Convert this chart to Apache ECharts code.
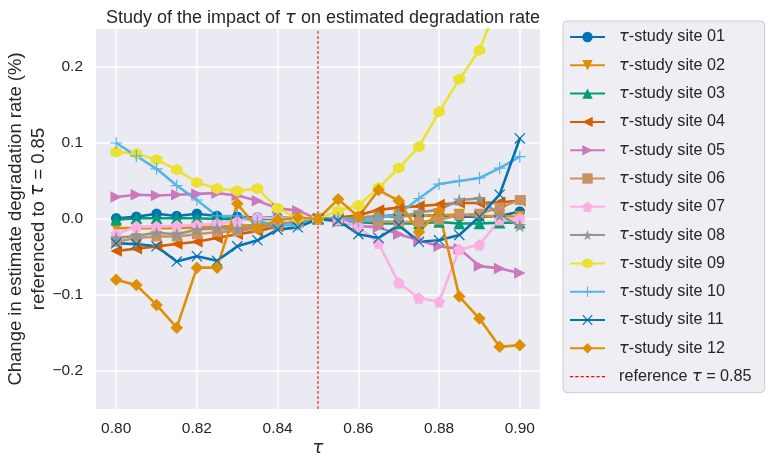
<!DOCTYPE html>
<html>
<head>
<meta charset="utf-8">
<script src="https://cdn.jsdelivr.net/npm/echarts@6/dist/echarts.min.js"></script>
<style>
html,body{margin:0;padding:0;background:#fff;}
#chart{width:772px;height:466px;}
</style>
</head>
<body>
<div id="chart"></div>
<script>
// ---- data ----
const TAU = [0.800,0.805,0.810,0.815,0.820,0.825,0.830,0.835,0.840,0.845,0.850,0.855,0.860,0.865,0.870,0.875,0.880,0.885,0.890,0.895,0.900];
const X_TICKS = [0.80,0.82,0.84,0.86,0.88,0.90];
const Y_TICKS = [-0.2,-0.1,0.0,0.1,0.2];
const REF_TAU = 0.85;
const SITE_NAMES = ['τ-study site 01','τ-study site 02','τ-study site 03','τ-study site 04','τ-study site 05','τ-study site 06','τ-study site 07','τ-study site 08','τ-study site 09','τ-study site 10','τ-study site 11','τ-study site 12'];
const REF_NAME = 'reference τ = 0.85';

const SITE01 = [0.001,0.003,0.007,0.004,0.007,0.004,0.003,0.002,0.002,0.001,0, 0.001,0.002,0.003,0.006,0.004,0.005,0.003,0.003,0.004,0.010];
const SITE02 = [-0.012,-0.012,-0.012,-0.012,-0.011,-0.010,-0.009,-0.008,-0.006,-0.004,0, 0.001,0.002,0.003,0.004,0.004,0.005,0.006,0.004,0.004,0.003];
const SITE03 = [-0.001,0.001,0.001,0.001,0.001,0.000,0.000,0.000,0.000,0.000,0, -0.002,-0.004,-0.006,-0.006,-0.006,-0.004,-0.006,-0.006,-0.005,-0.005];
const SITE04 = [-0.042,-0.039,-0.036,-0.033,-0.030,-0.025,-0.020,-0.016,-0.010,-0.004,0, 0.002,0.005,0.012,0.015,0.017,0.019,0.021,0.021,0.022,0.024];
const SITE05 = [0.029,0.032,0.031,0.032,0.033,0.034,0.031,0.024,0.014,0.011,0, -0.004,-0.009,-0.011,-0.020,-0.028,-0.036,-0.039,-0.062,-0.065,-0.071];
const SITE06 = [-0.030,-0.025,-0.023,-0.023,-0.020,-0.017,-0.016,-0.012,-0.008,-0.004,0, -0.001,-0.002,-0.003,-0.004,-0.004,-0.001,0.005,0.007,0.015,0.025];
const SITE07 = [-0.020,-0.010,-0.010,-0.009,-0.008,-0.006,-0.003,0.002,0.001,0.001,0, -0.001,-0.010,-0.032,-0.084,-0.104,-0.109,-0.040,-0.034,-0.001,0.001];
const SITE08 = [-0.025,-0.022,-0.018,-0.020,-0.014,-0.012,-0.013,-0.010,-0.008,-0.005,0, 0.000,0.002,0.004,0.002,0.009,0.012,0.025,0.027,0.005,-0.009];
const SITE09 = [0.088,0.086,0.078,0.065,0.048,0.040,0.037,0.040,0.014,0.001,0, 0.011,0.018,0.041,0.067,0.095,0.141,0.184,0.222,0.290,0.360];
const SITE10 = [0.100,0.083,0.066,0.044,0.025,0.004,0.004,-0.003,-0.008,-0.008,0, 0.001,-0.003,0.001,0.007,0.027,0.046,0.050,0.054,0.067,0.082];
const SITE11 = [-0.032,-0.033,-0.036,-0.056,-0.049,-0.055,-0.036,-0.028,-0.014,-0.011,0, -0.002,-0.020,-0.025,-0.008,-0.030,-0.028,-0.021,0.003,0.032,0.106];
const SITE12 = [-0.080,-0.087,-0.113,-0.143,-0.064,-0.064,0.020,-0.012,-0.001,0.002,0, 0.026,0.003,0.038,0.024,-0.017,0.010,-0.102,-0.131,-0.168,-0.166];
const Y_MIN = -0.25, Y_MAX = 0.25;

// ---- styles ----
const COLORS = ['#0173B2','#DE8F05','#029E73','#D55E00','#CC78BC','#CA9161','#FBAFE4','#949494','#ECE133','#56B4E9','#0173B2','#DE8F05'];
const PENTAGON = 'path://M0,-1L0.951,-0.309L0.588,0.809L-0.588,0.809L-0.951,-0.309Z';
const STAR = 'path://M0,-1L0.2245,-0.309L0.951,-0.309L0.363,0.118L0.588,0.809L0,0.382L-0.588,0.809L-0.363,0.118L-0.951,-0.309L-0.2245,-0.309Z';
const HEXAGON = 'path://M0,-1L0.866,-0.5L0.866,0.5L0,1L-0.866,0.5L-0.866,-0.5Z';
const PLUS = 'path://M-1,-0.1H1V0.1H-1ZM-0.1,-1H0.1V1H-0.1Z';
const CROSS = 'path://M-0.915,-1.085L1.085,0.915L0.915,1.085L-1.085,-0.915ZM-1.085,0.915L0.915,-1.085L1.085,-0.915L-0.915,1.085Z';
const MARKERS = [
  {s:'circle', size:10.5, r:0},
  {s:'triangle', size:11.5, r:180},
  {s:'triangle', size:11.5, r:0},
  {s:'triangle', size:11.5, r:90},
  {s:'triangle', size:11.5, r:-90},
  {s:'rect', size:10, r:0},
  {s:PENTAGON, size:11.5, r:0},
  {s:STAR, size:13, r:0},
  {s:HEXAGON, size:11.5, r:0},
  {s:PLUS, size:12, r:0},
  {s:CROSS, size:11, r:0},
  {s:'diamond', size:12.5, r:0}
];
const DASH_ICON = 'path://M0,0h3v1h-3zM5,0h3v1h-3zM10,0h3v1h-3zM15,0h3v1h-3zM20,0h3v1h-3zM25,0h3v1h-3zM30,0h3v1h-3z';

const SITES = [SITE01,SITE02,SITE03,SITE04,SITE05,SITE06,SITE07,SITE08,SITE09,SITE10,SITE11,SITE12];
const TXT = '#262626';
const FONT = 'Liberation Sans, Arial, sans-serif';

const series = [{
  name: REF_NAME,
  type: 'line',
  data: [[REF_TAU, Y_MIN],[REF_TAU, Y_MAX]],
  symbol: 'none',
  lineStyle: {color:'#ff0000', width:1, type:[3,2]},
  itemStyle: {color:'#ff0000'},
  z: 1
}];
SITES.forEach((vals, i) => {
  series.push({
    name: SITE_NAMES[i],
    type: 'line',
    data: TAU.map((t, j) => [t, vals[j]]),
    symbol: MARKERS[i].s,
    symbolSize: MARKERS[i].size,
    symbolRotate: MARKERS[i].r,
    showAllSymbol: true,
    lineStyle: {color: COLORS[i], width: 2.6},
    itemStyle: {color: COLORS[i]},
    z: 2
  });
});

const fmtNum = v => (v < 0 ? '\u2212' : '') + Math.abs(v).toFixed(1);

const option = {
  animation: false,
  backgroundColor: '#ffffff',
  textStyle: {fontFamily: FONT, color: TXT},
  title: {
    text: 'Study of the impact of {t|τ} on estimated degradation rate',
    left: 318, top: 4, textAlign: 'center',
    textStyle: {fontSize: 18, fontWeight: 'normal', color: TXT, fontFamily: FONT,
      rich: {t: {fontSize: 18, fontStyle: 'italic', fontFamily: 'DejaVu Sans', color: TXT}}}
  },
  grid: {left: 96, right: 232, top: 29, bottom: 57, show: true, backgroundColor: '#EAEAF2', borderWidth: 0, outerBoundsMode: 'none', containLabel: false},
  xAxis: {
    type: 'value', min: 0.795, max: 0.905,
    axisLine: {show: false}, 
    axisTick: {show: false, customValues: X_TICKS},
    axisLabel: {customValues: X_TICKS, formatter: v => v.toFixed(2), fontSize: 15.5, color: TXT, margin: 12, fontFamily: FONT},
    splitLine: {show: true, lineStyle: {color: '#ffffff', width: 1.5}},
    name: 'τ', nameLocation: 'middle', nameGap: 30, nameMoveOverlap: false,
    nameTextStyle: {fontSize: 18, fontStyle: 'italic', fontFamily: 'DejaVu Sans', color: TXT}
  },
  yAxis: {
    type: 'value', min: Y_MIN, max: Y_MAX,
    axisLine: {show: false},
    axisTick: {show: false, customValues: Y_TICKS},
    axisLabel: {customValues: Y_TICKS, formatter: fmtNum, fontSize: 15.5, color: TXT, margin: 13, fontFamily: FONT},
    splitLine: {show: true, lineStyle: {color: '#ffffff', width: 1.5}},
    name: 'Change in estimate degradation rate (%)\nreferenced to {t|τ} = 0.85',
    nameLocation: 'middle', nameGap: 46, nameRotate: 90, nameMoveOverlap: false,
    nameTextStyle: {fontSize: 18.5, color: TXT, fontFamily: FONT, lineHeight: 23,
      rich: {t: {fontSize: 18.5, fontStyle: 'italic', fontFamily: 'DejaVu Sans', color: TXT, lineHeight: 23}}}
  },
  legend: {
    orient: 'vertical', left: 563, top: 21,
    data: SITE_NAMES.concat([{name: REF_NAME, icon: DASH_ICON}]),
    itemWidth: 35, itemHeight: 13, itemGap: 10.3,
    padding: [7, 13, 7, 6],
    backgroundColor: '#EEEEF4', borderColor: '#cccccc', borderWidth: 1, borderRadius: 4,
    formatter: n => n.replace('τ', '{t|τ}'),
    textStyle: {fontSize: 16.2, color: TXT, fontFamily: FONT, lineHeight: 18, padding: [0,0,0,9],
      rich: {t: {fontSize: 16.2, fontStyle: 'italic', fontFamily: 'DejaVu Sans', color: TXT, lineHeight: 18}}}
  },
  series: series
};

const chart = echarts.init(document.getElementById('chart'), null, {renderer: 'canvas'});
chart.setOption(option);
</script>
</body>
</html>
